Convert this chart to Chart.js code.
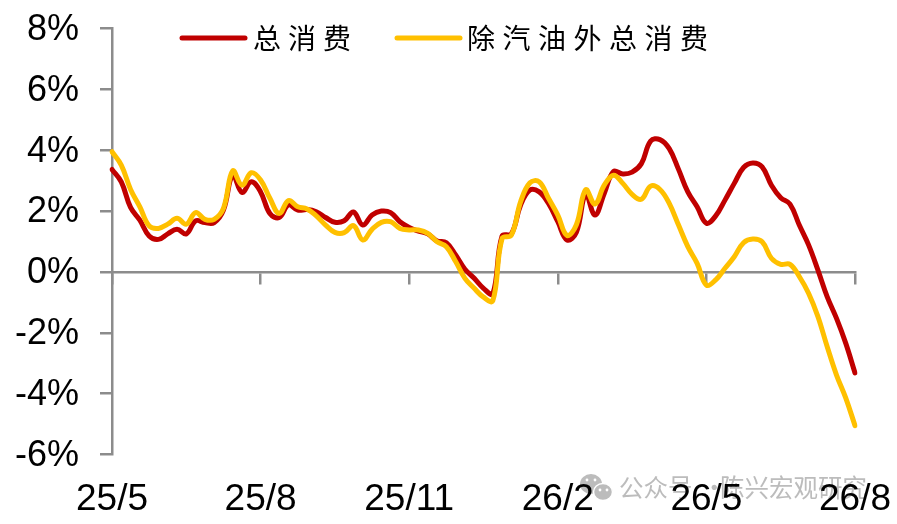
<!DOCTYPE html>
<html>
<head>
<meta charset="utf-8">
<style>
  html, body { margin: 0; padding: 0; background: #fff; }
</style>
</head>
<body>
<canvas id="consumption" width="897" height="524"></canvas>
<script src="https://cdn.jsdelivr.net/npm/chart.js"></script>
<script>
const tickLabels = ["25/5", "25/8", "25/11", "26/2", "26/5", "26/8"];
const stepsPerTick = 16;

const seriesNames = ["总消费", "除汽油外总消费"];

// 81 points between 25/5 and 26/8
const totalValues = [
  3.37, 2.96, 2.12, 1.70, 1.18, 1.07, 1.25, 1.40, 1.25, 1.68, 1.62, 1.62, 2.03, 3.18, 2.61, 2.96,
  2.63, 1.92, 1.79, 2.20, 2.03, 2.05, 1.98, 1.79, 1.63, 1.68, 1.97, 1.54, 1.87, 2.00, 1.95, 1.65,
  1.46, 1.34, 1.25, 1.02, 0.96, 0.56, 0.09, -0.21, -0.54, -0.72, 1.18, 1.25, 2.20, 2.69, 2.63, 2.25,
  1.65, 1.05, 1.30, 2.55, 1.87, 2.58, 3.30, 3.22, 3.28, 3.56, 4.30, 4.35, 4.05, 3.37, 2.63, 2.14,
  1.60, 1.84, 2.36, 2.91, 3.43, 3.58, 3.45, 2.85, 2.44, 2.23, 1.54, 0.89, 0.07, -0.81, -1.52, -2.34,
  -3.32,
];
const exGasolineValues = [
  3.95, 3.51, 2.71, 2.14, 1.51, 1.43, 1.57, 1.76, 1.57, 1.95, 1.73, 1.73, 2.09, 3.32, 2.85, 3.26,
  3.02, 2.42, 1.92, 2.34, 2.14, 2.07, 1.84, 1.54, 1.30, 1.29, 1.52, 1.05, 1.40, 1.63, 1.65, 1.43,
  1.38, 1.38, 1.27, 0.99, 0.83, 0.34, -0.21, -0.54, -0.83, -0.95, 1.10, 1.21, 2.31, 2.93, 2.96, 2.42,
  1.87, 1.20, 1.55, 2.70, 2.23, 2.85, 3.18, 2.91, 2.55, 2.39, 2.82, 2.71, 2.25, 1.54, 0.83, 0.28,
  -0.43, -0.26, 0.12, 0.50, 0.96, 1.08, 0.99, 0.45, 0.25, 0.25, -0.15, -0.70, -1.46, -2.45, -3.38, -4.14,
  -5.05,
];

const RED = "#C00000";
const YELLOW = "#FFC000";
const AXIS_GRAY = "#8C8C8C";
const MARK_GRAY = "#BCBCBC";

// category list: every 16th point carries a date label
const categories = totalValues.map((_, i) =>
  i % stepsPerTick === 0 ? tickLabels[i / stepsPerTick] : ""
);

// watermark sits behind everything
const watermark = {
  id: "watermark",
  beforeDraw(chart) {
    const ctx = chart.ctx;
    ctx.save();
    ctx.fillStyle = MARK_GRAY;
    ctx.beginPath();
    ctx.ellipse(591, 484, 11, 10, 0, 0, Math.PI * 2);
    ctx.fill();
    ctx.strokeStyle = "#fff";
    ctx.lineWidth = 1.5;
    ctx.beginPath();
    ctx.ellipse(603, 492, 9.5, 8.5, 0, 0, Math.PI * 2);
    ctx.fill();
    ctx.stroke();
    ctx.fillStyle = "#fff";
    [[587, 480], [595, 480], [600, 490], [607, 490]].forEach(([x, y]) => {
      ctx.beginPath();
      ctx.arc(x, y, 1.4, 0, Math.PI * 2);
      ctx.fill();
    });
    ctx.fillStyle = MARK_GRAY;
    ctx.font = '24.5px "Noto Sans CJK SC"';
    ctx.textBaseline = "middle";
    ctx.fillText("公众号", 619, 488);
    ctx.fillText("·", 702, 488);
    ctx.fillText("陈兴宏观研究", 720, 488);
    ctx.restore();
  },
};

// legend above the lines
const legendKeys = {
  id: "legendKeys",
  afterDraw(chart) {
    const ctx = chart.ctx;
    const entries = [
      { x1: 182, x2: 245, textX: 253, gap: "7px" },
      { x1: 397, x2: 460, textX: 467, gap: "7.5px" },
    ];
    ctx.save();
    entries.forEach((e, i) => {
      ctx.strokeStyle = chart.data.datasets[i].borderColor;
      ctx.lineWidth = 5;
      ctx.lineCap = "round";
      ctx.beginPath();
      ctx.moveTo(e.x1, 38);
      ctx.lineTo(e.x2, 38);
      ctx.stroke();
      ctx.fillStyle = "#000";
      ctx.font = '28px "Noto Sans CJK SC"';
      ctx.letterSpacing = e.gap;
      ctx.textBaseline = "middle";
      ctx.textAlign = "left";
      ctx.fillText(chart.data.datasets[i].label, e.textX, 38);
    });
    ctx.restore();
  },
};

new Chart(document.getElementById("consumption"), {
  type: "line",
  plugins: [watermark, legendKeys],
  data: {
    labels: categories,
    datasets: [
      { label: seriesNames[0], data: totalValues, borderColor: RED, order: 2 },
      { label: seriesNames[1], data: exGasolineValues, borderColor: YELLOW, order: 1 },
    ],
  },
  options: {
    responsive: false,
    animation: false,
    layout: { padding: { top: 28.5, right: 42, bottom: 69.5, left: 0 } },
    elements: {
      point: { radius: 0 },
      line: { borderWidth: 5, tension: 0.4, borderCapStyle: "round" },
    },
    plugins: { legend: { display: false }, tooltip: { enabled: false } },
    scales: {
      x: {
        position: { y: 0 },
        offset: false,
        afterBuildTicks(scale) {
          scale.ticks = scale.ticks.filter((t) => t.value % stepsPerTick === 0);
        },
        afterFit(scale) {
          // the big tick padding would otherwise squeeze the plot sideways
          scale.paddingLeft = 0;
          scale.paddingRight = 0;
        },
        grid: { drawOnChartArea: false, color: AXIS_GRAY, lineWidth: 2.5, tickLength: 11 },
        border: { color: AXIS_GRAY, width: 2.5 },
        ticks: {
          autoSkip: false,
          maxRotation: 0,
          padding: 195,
          color: "#000",
          font: { family: "Liberation Sans", size: 37 },
        },
      },
      y: {
        min: -6,
        max: 8,
        afterFit(scale) {
          scale.width = 112;
          scale.paddingTop = 0;
          scale.paddingBottom = 0;
        },
        grid: { drawOnChartArea: false, color: AXIS_GRAY, lineWidth: 2.5, tickLength: 12 },
        border: { color: AXIS_GRAY, width: 2.5 },
        ticks: {
          stepSize: 2,
          padding: 21,
          labelOffset: 1.5,
          color: "#000",
          font: { family: "Liberation Sans", size: 36 },
          callback: (v) => v + "%",
        },
      },
    },
  },
});
</script>
</body>
</html>
